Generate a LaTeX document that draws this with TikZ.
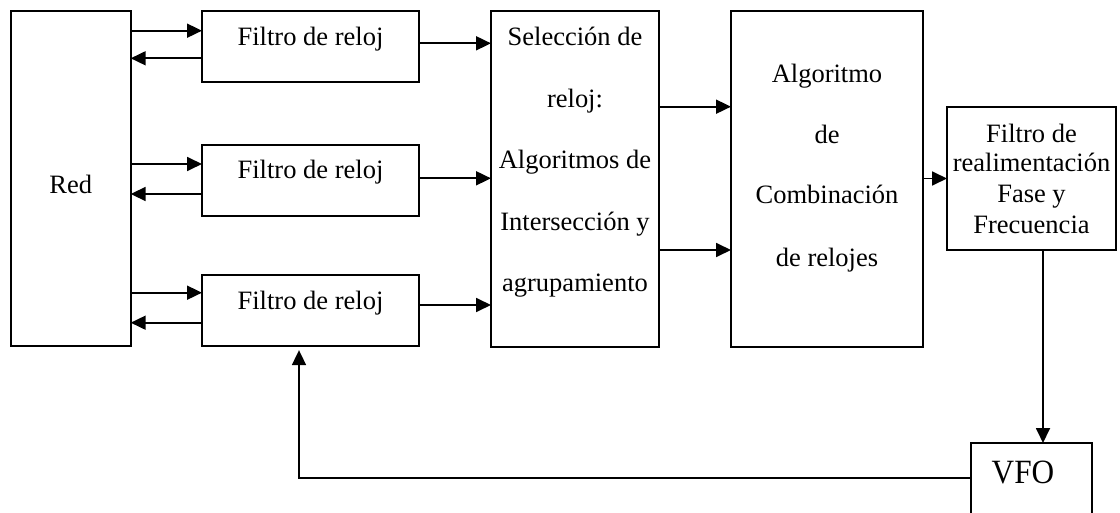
\documentclass[tikz,border=0pt]{standalone}
\usepackage{fontspec}
\setmainfont{Liberation Serif}
\usetikzlibrary{arrows.meta}
\begin{document}
\begin{tikzpicture}[x=1pt,y=-1pt]
\tikzset{
  blk/.style={draw, line width=1.8pt, inner sep=0pt, outer sep=0pt},
  lbl/.style={anchor=base, inner sep=0pt, font=\fontsize{26.5}{30}\selectfont},
  arr/.style={line width=1.8pt, -{Triangle[length=15pt,width=14pt]}},
}
\clip (0,0) rectangle (1120,513);

% blocks
\node[blk, minimum width=120pt, minimum height=335pt] (red) at (70.7,178.2) {};
\node[blk, minimum width=217pt, minimum height=71pt]  (f1)  at (310.5,46.2) {};
\node[blk, minimum width=217pt, minimum height=71pt]  (f2)  at (310.5,180.5) {};
\node[blk, minimum width=217pt, minimum height=70.7pt] (f3) at (310.5,310.3) {};
\node[blk, minimum width=168pt, minimum height=336pt] (sel) at (575,178.7) {};
\node[blk, minimum width=192pt, minimum height=336pt] (alg) at (827,178.7) {};
\node[blk, minimum width=169pt, minimum height=143pt] (fb)  at (1031.5,178.5) {};
\node[blk, minimum width=121pt, minimum height=100pt] (vfo) at (1031.5,493) {};

% labels
\node[lbl] (red-t) at (70.7,194) {Red};
\node[lbl] (f1-t) at (310.5,45.7) {Filtro de reloj};
\node[lbl] (f2-t) at (310.5,178.3) {Filtro de reloj};
\node[lbl] (f3-t) at (310.5,310) {Filtro de reloj};
\foreach \t/\y [count=\i] in {Selección de/45.7, reloj:/108, Algoritmos de/169,
    Intersección y/230.7, agrupamiento/292}
  \node[lbl] (sel-\i) at (575,\y) {\t};
\foreach \t/\y [count=\i] in {Algoritmo/82.7, de/144, Combinación/204, de relojes/266.7}
  \node[lbl] (alg-\i) at (827,\y) {\t};
\foreach \t/\y [count=\i] in {Filtro de/142.7, realimentación/171.7, Fase y/202.7, Frecuencia/233.3}
  \node[lbl] (fb-\i) at (1031.5,\y) {\t};
\node[lbl, font=\fontsize{34}{36}\selectfont] (vfo-t) at (1023,483.3) {\scalebox{0.92}[1]{VFO}};

% Red <-> clock filters
\foreach \f/\yi/\yo in {f1/30.7/58.3, f2/164/194, f3/292.7/322.7} {
  \coordinate (lin) at (0,\yi);
  \coordinate (lout) at (0,\yo);
  \draw[arr] (red.east |- lin) -- (\f.west |- lin);
  \draw[arr] (\f.west |- lout) -- (red.east |- lout);
}
% clock filters -> selection
\foreach \f/\y in {f1/43.3, f2/178.3, f3/305} {
  \coordinate (lsel) at (0,\y);
  \draw[arr] (\f.east |- lsel) -- (sel.west |- lsel);
}
% selection -> combination
\foreach \y in {106.7, 250} {
  \coordinate (lalg) at (0,\y);
  \draw[arr] (sel.east |- lalg) -- (alg.west |- lalg);
}
% combination -> loop filter -> VFO
\draw[arr] (alg.east |- fb.west) -- (fb.west);
\coordinate (dx) at (1043,0);
\draw[arr] (fb.south -| dx) -- (vfo.north -| dx);
% VFO feedback to the third clock filter
\coordinate (fx) at (299,0);
\coordinate (fy) at (0,478);
\draw[arr, shorten >=4.5pt] (vfo.west |- fy) -| (f3.south -| fx);
\end{tikzpicture}
\end{document}
